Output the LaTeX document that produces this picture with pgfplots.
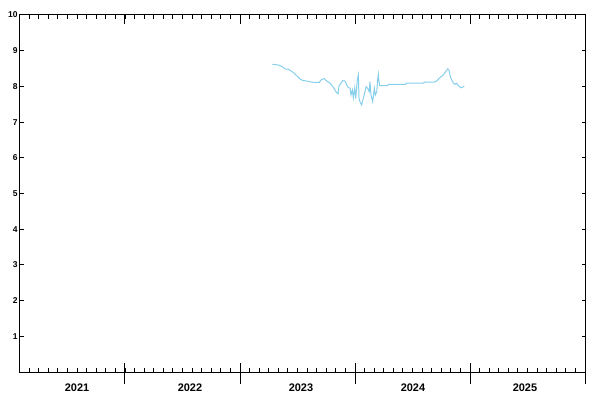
\documentclass[border=0pt]{standalone}
\usepackage{pgfplots}
\pgfplotsset{compat=1.18}
\usepackage{fontspec}
\setmainfont{Liberation Sans}
\definecolor{linec}{RGB}{135,206,235}
% x values are years minus 2020
\begin{document}
\begin{tikzpicture}
\useasboundingbox (0,0) rectangle (600bp,400bp);
\begin{axis}[
  at={(20bp,28bp)}, anchor=south west,
  scale only axis, width=565bp, height=357bp,
  xmin=1.087, xmax=6, ymin=0, ymax=10,
  axis line style={line width=1bp, black},
  xtick={2,3,4,5,6}, xticklabels={},
  minor xtick={1.08333,1.16667,...,6},
  ytick={1,2,3,4,5,6,7,8,9,10},
  yticklabel style={font=\bfseries\fontsize{8.5}{9}\selectfont, xshift=1bp},
  tick align=inside,
  major tick length=3.5bp, minor tick length=4bp,
  tick style={line width=1bp, black},
  xtick pos=both, ytick pos=both,
  /pgf/number format/assume math mode=true,
  clip=false,
]
\addplot[color=linec, line width=1bp] coordinates {
(3.281,8.62) (3.333,8.60) (3.363,8.56) (3.391,8.49) (3.420,8.48)
(3.441,8.44) (3.463,8.39) (3.493,8.30) (3.522,8.21) (3.542,8.17)
(3.580,8.15) (3.623,8.12) (3.652,8.11) (3.690,8.11) (3.704,8.18)
(3.730,8.22) (3.754,8.15) (3.783,8.09) (3.811,7.98) (3.835,7.85)
(3.852,7.79) (3.861,8.01) (3.878,8.09) (3.893,8.16) (3.913,8.15)
(3.928,8.04) (3.942,7.97) (3.957,7.95) (3.965,7.76) (3.977,7.90)
(3.985,7.68) (3.997,7.95) (4.006,7.66) (4.020,8.18) (4.029,8.32)
(4.035,7.66) (4.043,7.57) (4.058,7.48) (4.072,7.66) (4.087,7.85)
(4.096,7.99) (4.110,7.95) (4.124,7.85) (4.130,8.13) (4.139,7.76)
(4.154,7.57) (4.168,7.95) (4.177,7.76) (4.189,7.85) (4.197,8.18)
(4.203,8.34) (4.209,8.13) (4.215,8.02) (4.284,8.02) (4.290,8.06)
(4.441,8.06) (4.446,8.09) (4.597,8.09) (4.603,8.12) (4.690,8.12)
(4.710,8.15) (4.739,8.25) (4.768,8.32) (4.791,8.43) (4.806,8.49)
(4.817,8.46) (4.829,8.27) (4.841,8.18) (4.855,8.09) (4.870,8.06)
(4.884,8.09) (4.898,8.02) (4.922,7.96) (4.937,7.98) (4.950,8.01)
};
\pgfplotsinvokeforeach{2,3,4,5,6}{
  \draw[line width=1bp] ([yshift=-12bp]axis cs:#1,0) -- ([yshift=9bp]axis cs:#1,0);
  \draw[line width=1bp] (axis cs:#1,10) -- ([yshift=-9bp]axis cs:#1,10);
}
\node[font=\bfseries\fontsize{11}{12}\selectfont] at (axis cs:1.583,0) [yshift=-16bp] {2021};
\node[font=\bfseries\fontsize{11}{12}\selectfont] at (axis cs:2.565,0) [yshift=-16bp] {2022};
\node[font=\bfseries\fontsize{11}{12}\selectfont] at (axis cs:3.53,0) [yshift=-16bp] {2023};
\node[font=\bfseries\fontsize{11}{12}\selectfont] at (axis cs:4.504,0) [yshift=-16bp] {2024};
\node[font=\bfseries\fontsize{11}{12}\selectfont] at (axis cs:5.478,0) [yshift=-16bp] {2025};
\end{axis}
\end{tikzpicture}
\end{document}
